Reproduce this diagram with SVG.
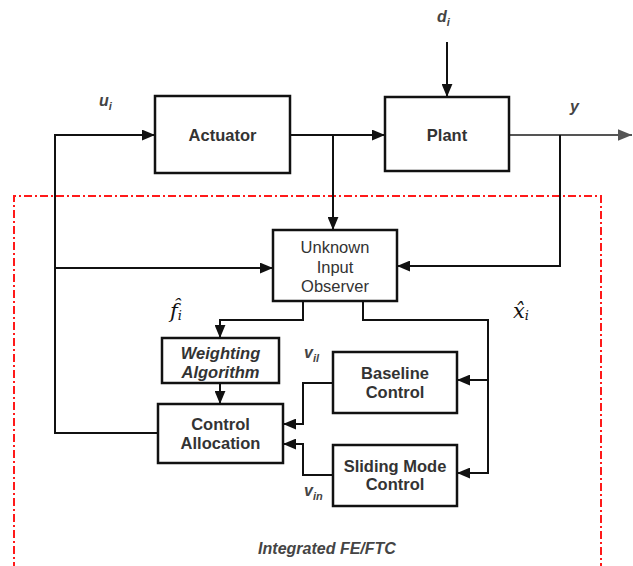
<svg xmlns="http://www.w3.org/2000/svg" width="633" height="566" viewBox="0 0 633 566">
  <style>
    .box { fill: #fff; stroke: #111; stroke-width: 2.5; }
    .lbl { font-family: "Liberation Sans", Arial, sans-serif; font-size: 16.5px; font-weight: bold; fill: #333; text-anchor: middle; }
    .lblr { font-family: "Liberation Sans", Arial, sans-serif; font-size: 16.5px; fill: #333; text-anchor: middle; }
    .it { font-style: italic; }
    .sig { font-family: "Liberation Sans", Arial, sans-serif; font-size: 16px; font-weight: bold; font-style: italic; fill: #444; }
    .sub { font-size: 11px; }
    .math { font-family: "DejaVu Serif", "Liberation Serif", serif; font-style: italic; fill: #111; }
    .wire { fill: none; stroke: #111; stroke-width: 2; }
    .out { fill: none; stroke: #555; stroke-width: 2; }
    .frame { fill: none; stroke: #ff1a1a; stroke-width: 2; stroke-dasharray: 8 3 2 3; }
  </style>
  <defs>
    <marker id="ah" viewBox="0 0 12 10" refX="12" refY="5" markerWidth="13" markerHeight="11" markerUnits="userSpaceOnUse" orient="auto">
      <path d="M0,0 L12,5 L0,10 Z" fill="#111"/>
    </marker>
    <marker id="ahg" viewBox="0 0 12 10" refX="12" refY="5" markerWidth="14" markerHeight="12" markerUnits="userSpaceOnUse" orient="auto">
      <path d="M0,0 L12,5 L0,10 Z" fill="#555"/>
    </marker>
  </defs>

  <rect width="633" height="566" fill="#fff"/>

  <!-- integrated FE/FTC boundary -->
  <path class="frame" d="M14,570 L14,196 L601,196 L601,570"/>

  <g id="connectors">
    <path class="wire" d="M158,433 H55 V135 H155" marker-end="url(#ah)"/>
    <path class="wire" d="M55,268 H273" marker-end="url(#ah)"/>
    <path class="wire" d="M290,135 H385" marker-end="url(#ah)"/>
    <path class="wire" d="M333,135 V230" marker-end="url(#ah)"/>
    <path class="wire" d="M447,42 V97" marker-end="url(#ah)"/>
    <path class="out" d="M509,135 H632" marker-end="url(#ahg)"/>
    <path class="wire" d="M560,135 V266 H397" marker-end="url(#ah)"/>
    <path class="wire" d="M303,301 V320 H220 V338" marker-end="url(#ah)"/>
    <path class="wire" d="M363,301 V320 H488 V473 H457" marker-end="url(#ah)"/>
    <path class="wire" d="M488,380 H457" marker-end="url(#ah)"/>
    <path class="wire" d="M220,383 V404" marker-end="url(#ah)"/>
    <path class="wire" d="M333,383 H303 V424 H283" marker-end="url(#ah)"/>
    <path class="wire" d="M333,475 H303 V444 H283" marker-end="url(#ah)"/>
  </g>

  <g id="actuator">
    <rect class="box" x="155" y="96" width="135" height="77"/>
    <text class="lbl" x="222.5" y="141">Actuator</text>
  </g>

  <g id="plant">
    <rect class="box" x="385" y="97" width="124" height="74"/>
    <text class="lbl" x="447" y="141">Plant</text>
  </g>

  <g id="uio">
    <rect class="box" x="273" y="230" width="124" height="71"/>
    <text class="lblr" x="335" y="253">Unknown</text>
    <text class="lblr" x="335" y="273">Input</text>
    <text class="lblr" x="335" y="292">Observer</text>
  </g>

  <g id="weighting">
    <rect class="box" x="162" y="338" width="117" height="45"/>
    <text class="lbl it" x="220.5" y="359">Weighting</text>
    <text class="lbl it" x="220.5" y="378">Algorithm</text>
  </g>

  <g id="allocation">
    <rect class="box" x="158" y="404" width="125" height="59"/>
    <text class="lbl" x="220.5" y="430">Control</text>
    <text class="lbl" x="220.5" y="449">Allocation</text>
  </g>

  <g id="baseline">
    <rect class="box" x="333" y="352" width="124" height="61"/>
    <text class="lbl" x="395" y="379">Baseline</text>
    <text class="lbl" x="395" y="398">Control</text>
  </g>

  <g id="smc">
    <rect class="box" x="333" y="445" width="124" height="61"/>
    <text class="lbl" x="395" y="472">Sliding Mode</text>
    <text class="lbl" x="395" y="490">Control</text>
  </g>

  <!-- signal labels -->
  <text class="sig" x="99" y="106">u<tspan class="sub" dy="4">i</tspan></text>
  <text class="sig" x="437" y="22">d<tspan class="sub" dy="4">i</tspan></text>
  <text class="sig" x="570" y="112">y</text>
  <text class="sig" x="304" y="358">v<tspan class="sub" dy="4">il</tspan></text>
  <text class="sig" x="304" y="496">v<tspan class="sub" dy="4">in</tspan></text>

  <!-- estimated fault and estimated state -->
  <text class="math" x="170" y="318" font-size="21">f̂<tspan font-size="13" dy="2">i</tspan></text>
  <text class="math" x="513" y="318" font-size="21">x̂<tspan font-size="13" dy="2">i</tspan></text>

  <text class="sig" x="327" y="554" text-anchor="middle" font-size="16">Integrated FE/FTC</text>
</svg>
